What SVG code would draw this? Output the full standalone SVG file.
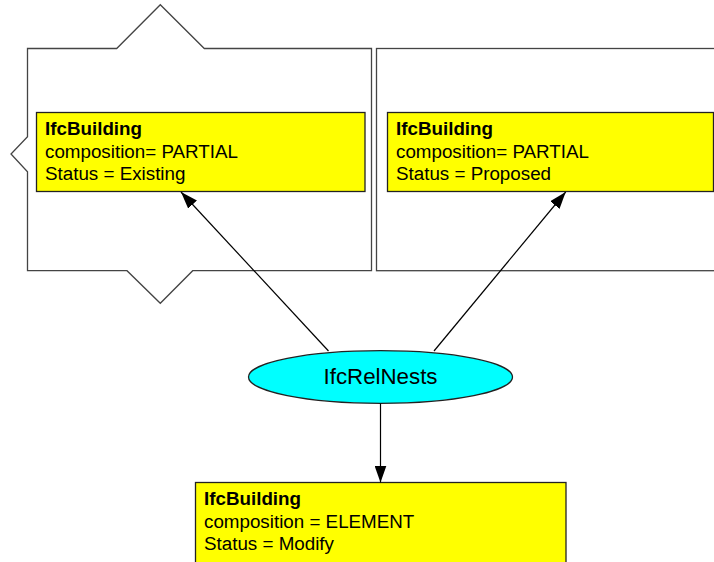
<svg xmlns="http://www.w3.org/2000/svg" width="714" height="562" viewBox="0 0 714 562">
<style>
.container{fill:#fff;stroke:#444;stroke-width:1.3}
.box{fill:#ffff00;stroke:#222;stroke-width:1.3}
.t{font-family:"Liberation Sans",Arial,sans-serif;font-size:18.8px;fill:#000}
.b{font-weight:bold}
.edge{stroke:#000;stroke-width:1.2;fill:none}
</style>
<defs>
<marker id="arr" viewBox="0 0 17 12" refX="17" refY="6" markerWidth="17" markerHeight="12" markerUnits="userSpaceOnUse" orient="auto">
<path d="M0,0 L17,6 L0,12 Z" fill="#000"/>
</marker>
</defs>
<rect width="714" height="562" fill="#fff"/>
<g id="container1">
<path class="container" d="M27.5,48.5 H116.7 L160.3,4.7 L204.3,48.5 H371.5 V270.7 H192.7 L160.3,303.3 L127,270.7 H27.5 V171.7 L11,154 L27.5,136.7 Z"/>
</g>
<g id="container2">
<rect class="container" x="376.5" y="48.5" width="345" height="222.2"/>
</g>
<g id="building-existing">
<rect class="box" x="36.5" y="112.5" width="328.5" height="79"/>
<text class="t b" x="45" y="135">IfcBuilding</text>
<text class="t" x="45" y="157.5">composition= PARTIAL</text>
<text class="t" x="45" y="180">Status = Existing</text>
</g>
<g id="building-proposed">
<rect class="box" x="387.5" y="112.5" width="326" height="79"/>
<text class="t b" x="396" y="135">IfcBuilding</text>
<text class="t" x="396" y="157.5">composition= PARTIAL</text>
<text class="t" x="396" y="180">Status = Proposed</text>
</g>
<g id="relnests">
<ellipse cx="380.5" cy="377" rx="132" ry="26.3" fill="#00ffff" stroke="#222" stroke-width="1.3"/>
<text class="t" x="380.5" y="384" text-anchor="middle" style="font-size:22.3px">IfcRelNests</text>
</g>
<g id="building-element">
<rect class="box" x="195.5" y="482.5" width="370.5" height="100"/>
<text class="t b" x="204" y="505">IfcBuilding</text>
<text class="t" x="204" y="528">composition = ELEMENT</text>
<text class="t" x="204" y="550">Status = Modify</text>
</g>
<g id="connectors">
<line class="edge" x1="328.5" y1="351" x2="181" y2="192" marker-end="url(#arr)"/>
<line class="edge" x1="434" y1="351" x2="565.7" y2="192" marker-end="url(#arr)"/>
<line class="edge" x1="380.5" y1="403.5" x2="380.5" y2="482.5" marker-end="url(#arr)"/>
</g>
</svg>
